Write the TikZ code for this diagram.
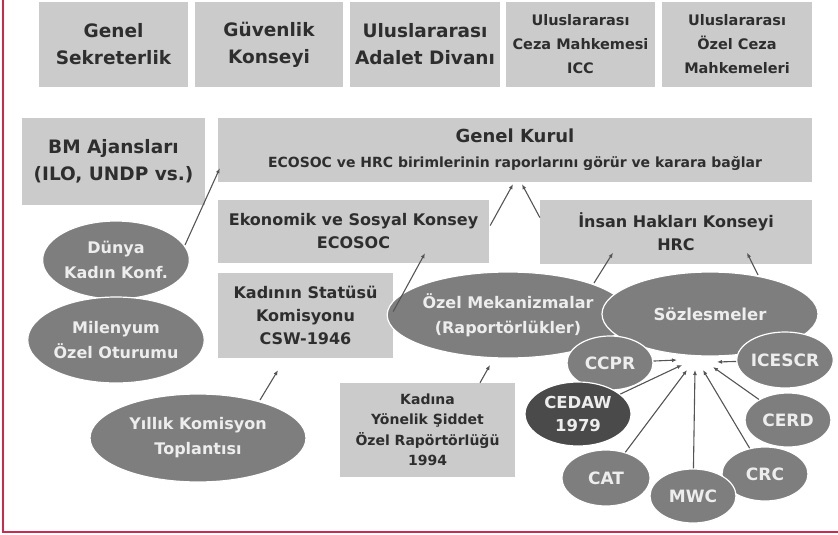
\documentclass[tikz,border=0pt]{standalone}
\usepackage{fontspec}
\setmainfont{DejaVu Sans}
\usetikzlibrary{shapes.geometric,arrows.meta,calc}
\definecolor{boxgray}{HTML}{CBCBCB}
\definecolor{ovalgray}{HTML}{7E7E7E}
\definecolor{ovaldark}{HTML}{4A4A4A}
\definecolor{txtdark}{HTML}{2E2E2E}
\definecolor{txtlight}{HTML}{EDEDED}
\definecolor{arrgray}{HTML}{555555}
\definecolor{framered}{HTML}{CC2A4E}
\begin{document}
\begin{tikzpicture}[x=1pt,y=-1pt,
  box/.style={fill=boxgray,text=txtdark,inner sep=0pt,align=center},
  oval/.style={ellipse,fill=ovalgray,draw=white,line width=1.2pt,text=txtlight,inner sep=0pt,align=center},
  fbig/.style={font=\bfseries\fontsize{18.5}{27}\selectfont},
  fmid/.style={font=\bfseries\fontsize{16}{23}\selectfont},
  fsmall/.style={font=\bfseries\fontsize{14.5}{24}\selectfont},
  fkad/.style={font=\bfseries\fontsize{14}{20.5}\selectfont},
  fov/.style={font=\bfseries\fontsize{16}{25}\selectfont},
  arr/.style={draw=arrgray,line width=1.1pt,-{Latex[length=5pt,width=4pt]}}
]
\useasboundingbox (0,0) rectangle (838,535);
% frame
\draw[framered,line width=2pt] (3,0) -- (3,532) -- (838,532);

% top row
\node[box,fbig,minimum width=149pt,minimum height=85pt] (gs) at (113.5,44.5) {Genel\\Sekreterlik};
\node[box,fbig,minimum width=148pt,minimum height=85pt] (gk) at (269,44.5) {Güvenlik\\Konseyi};
\node[box,fbig,minimum width=150pt,minimum height=85pt] (uad) at (425,44.5) {Uluslararası\\Adalet Divanı};
\node[box,fsmall,minimum width=149pt,minimum height=85pt] (icc) at (580.5,44.5) {Uluslararası\\Ceza Mahkemesi\\ICC};
\node[box,fsmall,minimum width=150pt,minimum height=85pt] (ozc) at (737,44.5) {Uluslararası\\Özel Ceza\\Mahkemeleri};

% second row
\node[box,fbig,minimum width=183pt,minimum height=87pt] (bm) at (113.5,161.5) {BM Ajansları\\(ILO, UNDP vs.)};
\node[box,font=\bfseries\fontsize{14}{25}\selectfont,minimum width=594pt,minimum height=64pt] (gkurul) at (515,150)
  {{\fontsize{18}{25}\selectfont Genel Kurul}\\ECOSOC ve HRC birimlerinin raporlarını görür ve karara bağlar};
\node[box,fmid,minimum width=271pt,minimum height=63pt] (ecosoc) at (353.5,231.5) {Ekonomik ve Sosyal Konsey\\ECOSOC};
\node[box,fmid,minimum width=272pt,minimum height=64pt] (hrc) at (676,231.5) {İnsan Hakları Konseyi\\HRC};
\node[box,fmid,minimum width=175pt,minimum height=85pt] (csw) at (305.5,315.5) {Kadının Statüsü\\Komisyonu\\CSW-1946};
\node[box,fkad,minimum width=175pt,minimum height=94pt] (kadina) at (427.5,430) {Kadına\\Yönelik Şiddet\\Özel Rapörtörlüğü\\1994};

% ellipses
\node[oval,fov,minimum width=142pt,minimum height=78pt] (dunya) at (116,260) {Dünya\\Kadın Konf.};
\node[oval,fov,minimum width=142pt,minimum height=86pt] (milen) at (116,340) {Milenyum\\Özel Oturumu};
\node[oval,fov,minimum width=216pt,minimum height=88pt] (yillik) at (198,438) {Yıllık Komisyon\\Toplantısı};
\node[oval,fov,minimum width=204pt,minimum height=86pt] (ozelm) at (508,315) {Özel Mekanizmalar\\(Raportörlükler)};
\node[oval,font=\bfseries\fontsize{16.5}{20}\selectfont,minimum width=216pt,minimum height=84pt] (sozl) at (710,314) {Sözlesmeler};
\node[oval,font=\bfseries\fontsize{17}{20}\selectfont,minimum width=86pt,minimum height=54pt] (ccpr) at (610,363) {CCPR};
\node[oval,font=\bfseries\fontsize{17}{20}\selectfont,minimum width=80pt,minimum height=56pt] (icescr) at (785,360) {ICESCR};
\node[oval,fill=ovaldark,font=\bfseries\fontsize{16.5}{23}\selectfont,minimum width=106pt,minimum height=64pt] (cedaw) at (578,414) {CEDAW\\1979};
\node[oval,font=\bfseries\fontsize{17}{20}\selectfont,minimum width=86pt,minimum height=54pt] (cerd) at (788,420) {CERD};
\node[oval,font=\bfseries\fontsize{17}{20}\selectfont,minimum width=88pt,minimum height=56pt] (cat) at (606,478) {CAT};
\node[oval,font=\bfseries\fontsize{17}{20}\selectfont,minimum width=86pt,minimum height=54pt] (crc) at (765,474) {CRC};
\node[oval,font=\bfseries\fontsize{17}{20}\selectfont,minimum width=86pt,minimum height=54pt] (mwc) at (693,496) {MWC};

% arrows
\draw[arr] ($(dunya.center)+(69,-15)$) -- ($(gkurul.south west)+(2,-14)$);
\draw[arr] ($(ecosoc.east)+(1,-6)$) -- ($(gkurul.south)+(-2,2)$);
\draw[arr] ($(hrc.west)+(0,-14)$) -- ($(gkurul.south)+(7,2)$);
\draw[arr] ($(csw.east)+(0,-4)$) -- ($(ecosoc.south)+(71.5,-10)$);
\draw[arr] ($(ozelm.center)+(86,-32)$) -- ($(hrc.south)+(-63,-11)$);
\draw[arr] ($(sozl.center)+(48,-39)$) -- ($(hrc.south)+(71,-11)$);
\draw[arr] ($(kadina.north)+(52.5,0)$) -- ($(ozelm.center)+(-18,50)$);
\draw[arr] ($(yillik.center)+(62,-38)$) -- ($(csw.south)+(-27.5,12)$);

\draw[arr] (ccpr) -- ($(sozl.center)+(-33,46)$);
\draw[arr] (cedaw) -- ($(sozl.center)+(-28,51)$);
\draw[arr] (cat) -- ($(sozl.center)+(-23,56)$);
\draw[arr] (mwc) -- ($(sozl.center)+(-15,56)$);
\draw[arr] (crc) -- ($(sozl.center)+(-7,56)$);
\draw[arr] (cerd) -- ($(sozl.center)+(3,53)$);
\draw[arr] (icescr) -- ($(sozl.center)+(7,48)$);
\end{tikzpicture}
\end{document}
